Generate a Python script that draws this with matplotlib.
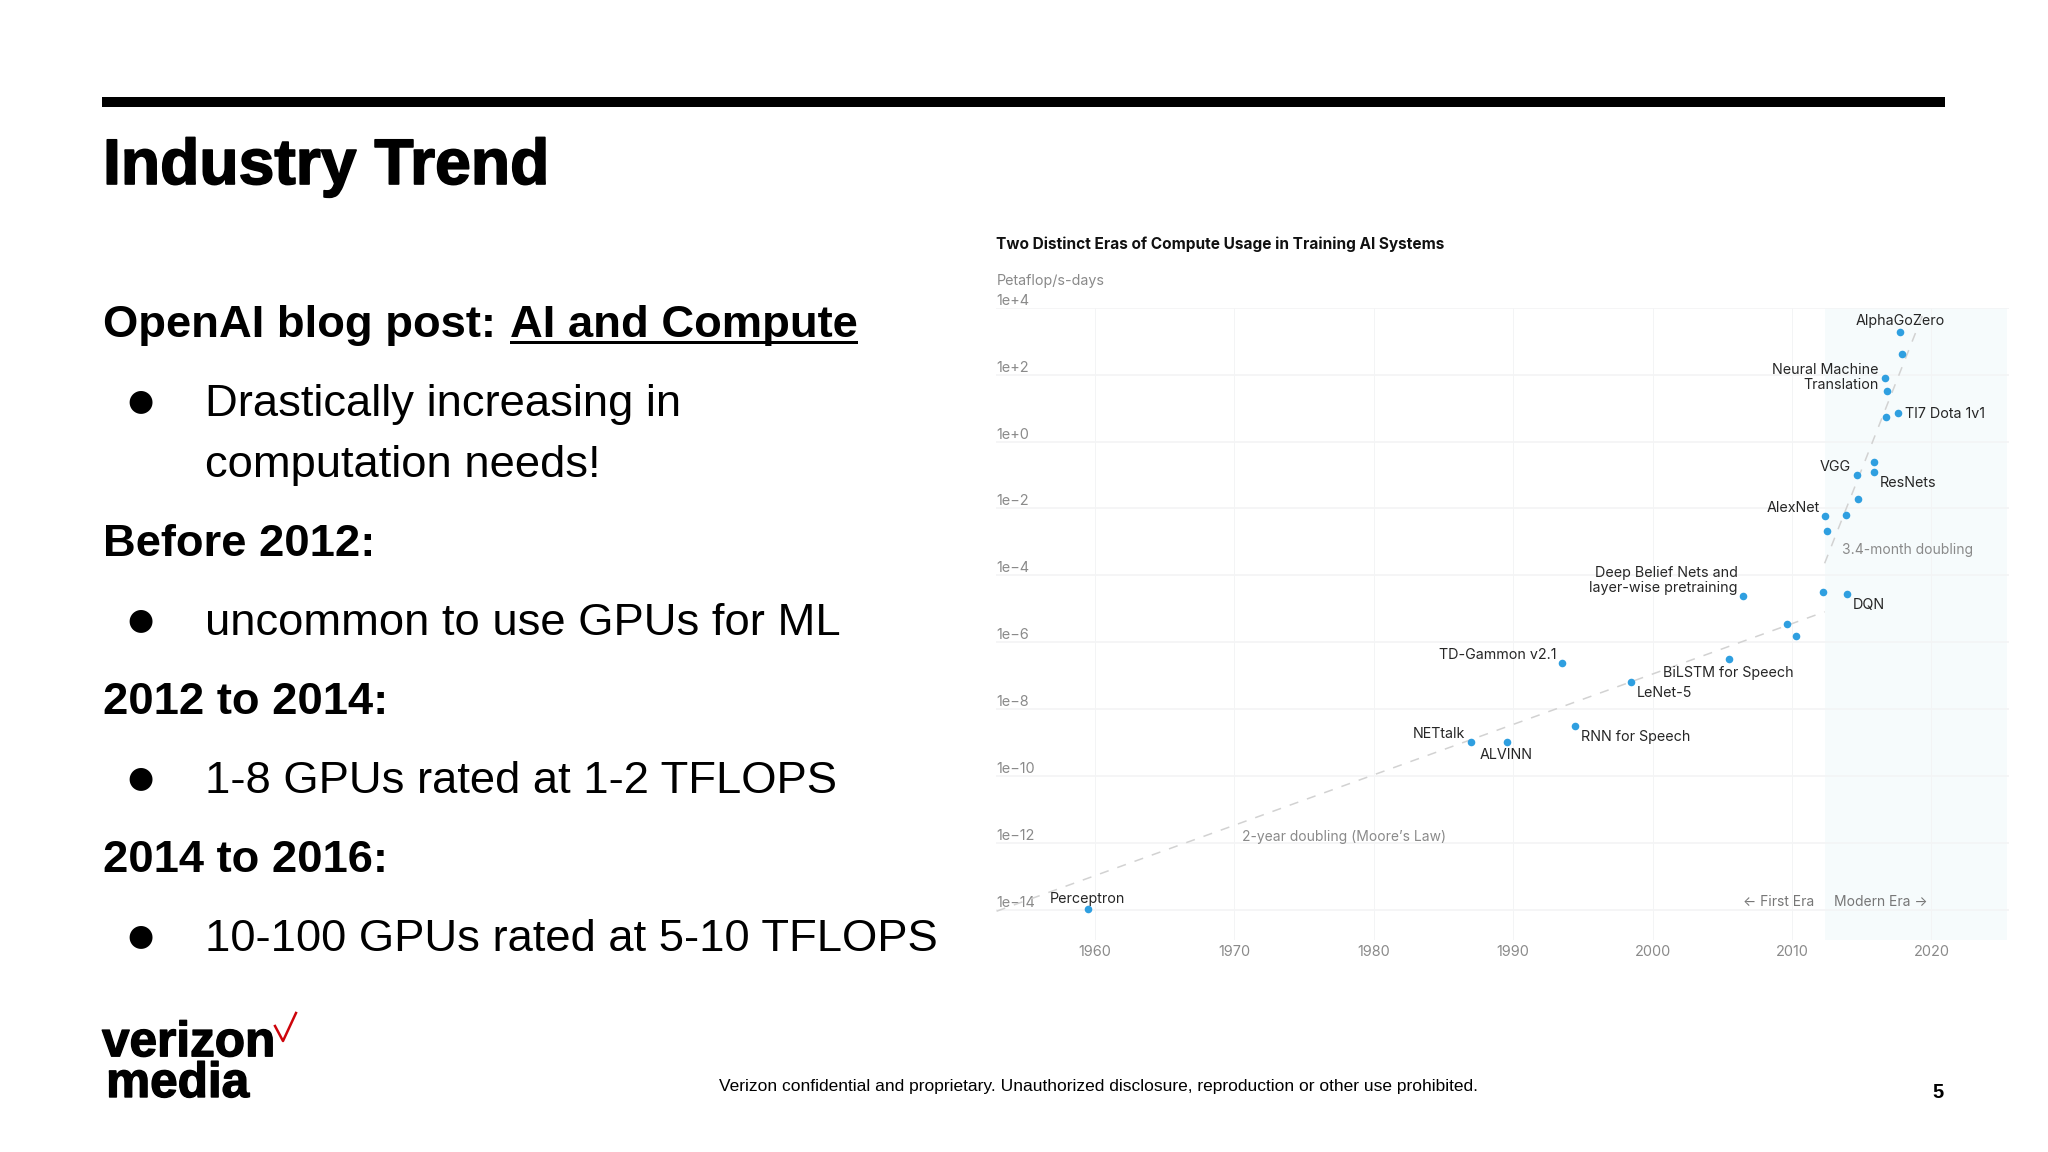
import matplotlib
matplotlib.use("Agg")
import matplotlib.pyplot as plt
import matplotlib.patheffects as pe
from matplotlib.lines import Line2D
from matplotlib.patches import Rectangle
from matplotlib.transforms import Affine2D

W, H = 2048, 1152
fig = plt.figure(figsize=(W / 100, H / 100), dpi=100, facecolor="white")

# ---------- data ----------
NAMES = ["AlphaGoZero", "", "Neural Machine\nTranslation", "", "", "TI7 Dota 1v1", "", "ResNets",
         "VGG", "", "", "AlexNet", "", "", "DQN", "Deep Belief Nets and\nlayer-wise pretraining",
         "", "", "TD-Gammon v2.1", "BiLSTM for Speech", "LeNet-5", "RNN for Speech",
         "NETtalk", "ALVINN", "Perceptron"]
YEARS = [2017.76, 2017.9, 2016.7, 2016.83, 2016.74, 2017.57, 2015.86, 2015.9,
         2014.64, 2014.7, 2013.86, 2012.4, 2012.5, 2012.25, 2013.95, 2006.5,
         2009.66, 2010.3, 1993.5, 2005.46, 1998.48, 1994.47,
         1986.95, 1989.54, 1959.5]
LOG_PFS = [3.27, 2.63, 1.91, 1.51, 0.72, 0.86, -0.60, -0.90,
           -1.0, -1.73, -2.2, -2.22, -2.66, -4.5, -4.55, -4.61,
           -5.44, -5.81, -6.62, -6.49, -7.2, -8.51,
           -8.99, -8.99, -13.98]
MOORE_YEARS = [1952.97, 2012.34]
MOORE_LOG = [-14.04, -5.09]
MODERN_YEARS = [2012.34, 2019.57]
MODERN_LOG = [-3.64, 4.0]
YEAR_TICKS = [1960, 1970, 1980, 1990, 2000, 2010, 2020]
LOG_TICKS = [4, 2, 0, -2, -4, -6, -8, -10, -12, -14]
LOG_TICK_LABELS = ["1e+4", "1e+2", "1e+0", "1e\u22122", "1e\u22124", "1e\u22126", "1e\u22128",
                   "1e\u221210", "1e\u221212", "1e\u221214"]
MODERN_START = 2012.4
MODERN_END = 2025.4

# label placement per point: (dx px, dy px, ha)
LABEL_STYLE = {
    "AlphaGoZero": (0, 11, "center"),
    "Neural Machine\nTranslation": (-7, 0, "right"),
    "TI7 Dota 1v1": (7, -1, "left"),
    "ResNets": (5.5, -11, "left"),
    "VGG": (-5.5, 8, "right"),
    "AlexNet": (-5.5, 8, "right"),
    "DQN": (5.5, -11, "left"),
    "Deep Belief Nets and\nlayer-wise pretraining": (-5.5, 15, "right"),
    "TD-Gammon v2.1": (-5.5, 8, "right"),
    "BiLSTM for Speech": (0, -14, "center"),
    "LeNet-5": (5.5, -11, "left"),
    "RNN for Speech": (5.5, -11, "left"),
    "NETtalk": (-5, 8, "right"),
    "ALVINN": (0, -13, "center"),
    "Perceptron": (0, 10, "center"),
}

SANS = ["Liberation Sans", "DejaVu Sans"]
CHART = ["Inter", "DejaVu Sans"]
LABEL_PT = 10.3
TREND_PT = 10.0
TICK_PT = 10.4

# pixel transform, origin at top left of the slide
PX = Affine2D().scale(1 / W, -1 / H).translate(0, 1) + fig.transFigure


def slide_text(x, y, s, px, weight="normal", color="black", family=SANS, ha="left", va="baseline",
               fit=None, fatten=0, **kw):
    t = fig.text(x, y, s, transform=PX, fontsize=px * 0.72, fontweight=weight, color=color,
                 family=family, ha=ha, va=va, **kw)
    if fit:
        r = fig.canvas.get_renderer()
        t.set_fontsize(t.get_fontsize() * fit / t.get_window_extent(r).width)
    if fatten:
        t.set_path_effects([pe.withStroke(linewidth=fatten, foreground=color)])
    return t


# ---------- slide furniture ----------
fig.add_artist(Rectangle((102, 97.3), 1843, 10, transform=PX, color="black", lw=0))
slide_text(103, 184, "Industry Trend", 67, "bold", fit=446, fatten=1.2)

BODY = 45.4
slide_text(103, 336.7, "OpenAI blog post:", BODY, "bold")
slide_text(509.5, 336.7, "AI and Compute", BODY, "bold")
fig.add_artist(Rectangle((509.5, 340.7), 348.5, 3.3, transform=PX, color="black", lw=0))

for y, s in [(555.7, "Before 2012:"), (713.7, "2012 to 2014:"), (871.7, "2014 to 2016:")]:
    slide_text(103, y, s, BODY, "bold")
for y, s in [(415.7, "Drastically increasing in"), (477.4, "computation needs!"),
             (634.7, "uncommon to use GPUs for ML"), (792.7, "1-8 GPUs rated at 1-2 TFLOPS"),
             (950.7, "10-100 GPUs rated at 5-10 TFLOPS")]:
    slide_text(205, y, s, BODY)
for y in [415, 634, 792, 950]:
    slide_text(140, y - 14, "\u25cf", 30, ha="center", va="center", family=["DejaVu Sans"])

# logo and footer
slide_text(102, 1097, "verizon\n\u200amedia", 56, "bold", fit=173, fatten=1.0, linespacing=0.88)
fig.add_artist(Line2D([275, 283, 296], [1026, 1041, 1013], transform=PX, color="#cd040b", lw=1.8))
slide_text(719, 1091, "Verizon confidential and proprietary. Unauthorized disclosure, reproduction or other use prohibited.",
           19, fit=754)
slide_text(1938, 1098, "5", 20, "bold", ha="center")

# ---------- chart ----------
AX_L, AX_R, AX_T, AX_B = 996.3, 2008.6, 307.7, 940.0
ax = fig.add_axes([AX_L / W, 1 - AX_B / H, (AX_R - AX_L) / W, (AX_B - AX_T) / H])
ax.set_facecolor("none")
ax.set_xlim(1952.95, 2025.53)
ax.set_yscale("log")
ax.set_ylim(10 ** -14.9, 10 ** 4)
for s in ax.spines.values():
    s.set_visible(False)

ax.axvspan(MODERN_START, MODERN_END, color="#f6fbfc", lw=0, zorder=0)
ax.set_xticks(YEAR_TICKS)
ax.set_yticks([10.0 ** v for v in LOG_TICKS])
ax.set_yticklabels(LOG_TICK_LABELS)
ax.minorticks_off()
ax.xaxis.grid(True, color="#f3f4f5", lw=0.7, zorder=1)
ax.yaxis.grid(True, color="#f3f4f5", lw=1.2, zorder=1)
ax.set_axisbelow(True)
ax.tick_params(axis="both", length=0, labelcolor="#8a8a8a", labelsize=TICK_PT)
ax.tick_params(axis="x", pad=3.5)
ax.tick_params(axis="y", pad=0)
for lab in ax.get_yticklabels():
    lab.set_ha("left")
    lab.set_va("bottom")
    lab.set_family(CHART)
for lab in ax.get_xticklabels():
    lab.set_family(CHART)

dash = (0, (6, 6))
ax.plot(MOORE_YEARS, [10.0 ** v for v in MOORE_LOG], color="#d2d2d2", lw=1.1, ls=dash, zorder=2)
ax.plot(MODERN_YEARS, [10.0 ** v for v in MODERN_LOG], color="#d2d2d2", lw=1.1, ls=dash, zorder=2)
ax.scatter(YEARS, [10.0 ** v for v in LOG_PFS], s=30, color="#2f9fe0", lw=0, zorder=3, clip_on=False)

for name, xv, lv in zip(NAMES, YEARS, LOG_PFS):
    if not name:
        continue
    dx, dy, ha = LABEL_STYLE[name]
    ax.annotate(name, (xv, 10.0 ** lv), xytext=(dx, dy), textcoords="offset pixels",
                ha=ha, va="center", fontsize=LABEL_PT, color="#262626", family=CHART,
                linespacing=1.08, zorder=4)

ax.text(2013.6, 10 ** -3.25, "3.4-month doubling", fontsize=TREND_PT, color="#8a8a8a", family=CHART, va="center")
ax.text(1970.6, 10 ** -11.83, "2-year doubling (Moore\u2019s Law)", fontsize=TREND_PT, color="#8a8a8a", family=CHART, va="center")
ax.text(2011.56, 10 ** -13.76, "\u2190 First Era", fontsize=TREND_PT, color="#777777", family=CHART, va="center", ha="right")
ax.text(2013.03, 10 ** -13.76, "Modern Era \u2192", fontsize=TREND_PT, color="#777777", family=CHART, va="center")

fig.text(996.3, 244.5, "Two Distinct Eras of Compute Usage in Training AI Systems", transform=PX,
         fontsize=11.1, fontweight="bold", color="#111111", family=CHART, va="center")
fig.text(996.3, 280.5, "Petaflop/s-days", transform=PX, fontsize=LABEL_PT, color="#8a8a8a", family=CHART, va="center")

fig.savefig("out.png", dpi=100)
